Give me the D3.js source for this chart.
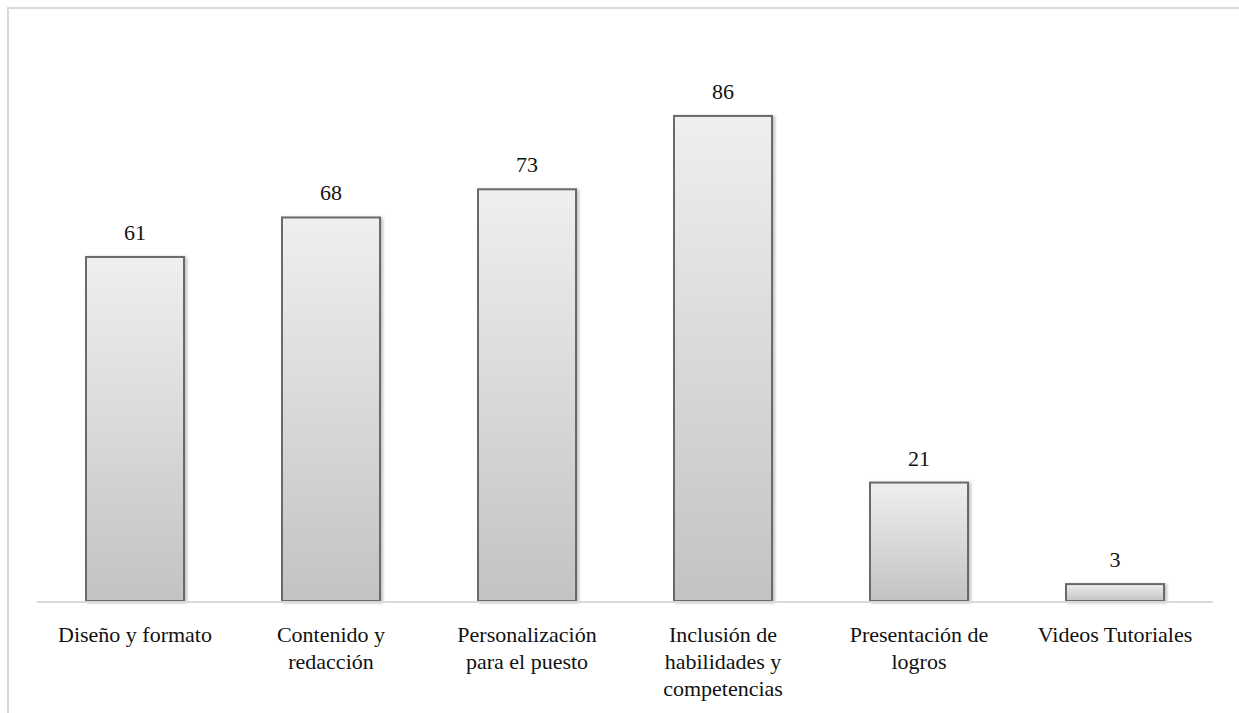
<!DOCTYPE html>
<html>
<head>
<meta charset="utf-8">
<script src="https://cdn.jsdelivr.net/npm/d3@7"></script>
<style>
  html, body { margin: 0; padding: 0; background: #fff; }
  svg { display: block; }
  text { font-family: "Liberation Serif", "DejaVu Serif", serif; fill: #111; }
</style>
</head>
<body>
<svg id="chart" width="1239" height="713"></svg>
<script>
// Categories (each entry is the list of lines shown under the bar)
const categories = [
  ["Diseño y formato"],
  ["Contenido y", "redacción"],
  ["Personalización", "para el puesto"],
  ["Inclusión de", "habilidades y", "competencias"],
  ["Presentación de", "logros"],
  ["Videos Tutoriales"]
];
const values = [61, 68, 73, 86, 21, 3];

const W = 1239, H = 713;
const margin = { left: 37, right: 26, top: 37, bottom: 112 };
const baseY = 601;

const svg = d3.select("#chart");

// outer frame (only top and left edges fall inside the view)
svg.append("path")
  .attr("d", `M8,${H} L8,8 L${W},8`)
  .attr("fill", "none")
  .attr("stroke", "#d9d9d9")
  .attr("stroke-width", 2);

const defs = svg.append("defs");
const grad = defs.append("linearGradient")
  .attr("id", "barFill")
  .attr("x1", 0).attr("y1", 0).attr("x2", 0).attr("y2", 1);
grad.append("stop").attr("offset", "0%").attr("stop-color", "#efefef");
grad.append("stop").attr("offset", "100%").attr("stop-color", "#c3c3c3");

const shadow = defs.append("filter").attr("id", "shadow")
  .attr("x", "-10%").attr("y", "-10%").attr("width", "130%").attr("height", "130%");
shadow.append("feDropShadow")
  .attr("dx", 2).attr("dy", 1).attr("stdDeviation", 1.5)
  .attr("flood-color", "#000").attr("flood-opacity", 0.25);

const x = d3.scaleBand()
  .domain(d3.range(categories.length))
  .range([margin.left, W - margin.right])
  .paddingInner(0.5)
  .paddingOuter(0.25);

const y = d3.scaleLinear()
  .domain([0, 100])
  .range([baseY, margin.top]);

// bars
svg.append("g").selectAll("rect")
  .data(values)
  .join("rect")
  .attr("x", (d, i) => x(i))
  .attr("y", d => y(d))
  .attr("width", x.bandwidth())
  .attr("height", d => y(0) - y(d))
  .attr("fill", "url(#barFill)")
  .attr("stroke", "#6a6a6a")
  .attr("stroke-width", 2)
  .attr("filter", "url(#shadow)");

// category axis line
svg.append("line")
  .attr("x1", margin.left).attr("x2", W - margin.right)
  .attr("y1", y(0) + 1).attr("y2", y(0) + 1)
  .attr("stroke", "#d9d9d9")
  .attr("stroke-width", 2);

// value labels
svg.append("g").selectAll("text")
  .data(values)
  .join("text")
  .attr("x", (d, i) => x(i) + x.bandwidth() / 2)
  .attr("y", d => y(d) - 17)
  .attr("text-anchor", "middle")
  .attr("font-size", 22)
  .text(d => d);

// category labels
const lab = svg.append("g").selectAll("text")
  .data(categories)
  .join("text")
  .attr("text-anchor", "middle")
  .attr("font-size", 22)
  .attr("x", (d, i) => x(i) + x.bandwidth() / 2)
  .attr("y", 642);
lab.selectAll("tspan")
  .data(d => d)
  .join("tspan")
  .attr("x", function () { return this.parentNode.getAttribute("x"); })
  .attr("dy", (d, j) => j === 0 ? 0 : 27)
  .text(d => d);
</script>
</body>
</html>
